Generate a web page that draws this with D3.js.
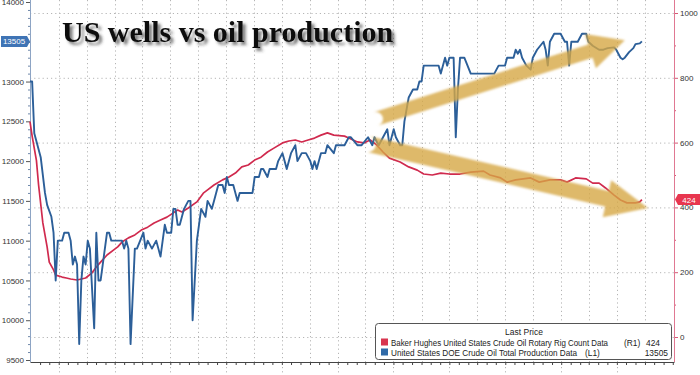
<!DOCTYPE html>
<html>
<head>
<meta charset="utf-8">
<script src="https://cdn.jsdelivr.net/npm/d3@7"></script>
<style>
  body { margin: 0; background: #fff; }
  svg { display: block; font-family: "Liberation Sans", Arial, sans-serif; }
</style>
</head>
<body>
<div id="chart"></div>
<script>
// weekly data, week 0 = 2020-03-13
const startDate = new Date(2020, 2, 13);
const totalWeeks = 301;

// [week, thousand barrels/day]
const production = [[0,13000],[1,13000],[2,12350],[5,12050],[7,11600],[8,11450],[10,11300],[11,11100],[12,10500],[13,11000],[15,11000],[16,11100],[18,11100],[19,11000],[20,10700],[21,10800],[22,10700],[23,9700],[24,10500],[25,10800],[26,10700],[27,11000],[28,10900],[30,9900],[31,11100],[32,10500],[33,10500],[34,10700],[36,11100],[37,11100],[38,11000],[43,11000],[44,10900],[45,11000],[46,10900],[47,9700],[49,10900],[50,10900],[53,11100],[54,10900],[55,11000],[57,10900],[59,11000],[60,10900],[61,10800],[63,11200],[64,11100],[66,11100],[67,11400],[68,11400],[69,11200],[70,11200],[72,11400],[74,11500],[75,11500],[76,10000],[78,11000],[80,11400],[82,11300],[83,11500],[85,11400],[86,11500],[88,11700],[90,11700],[91,11600],[92,11800],[93,11700],[95,11700],[97,11500],[98,11600],[104,11600],[105,11800],[107,11800],[108,11900],[109,11900],[111,11800],[112,11900],[115,11900],[116,12000],[118,12100],[119,12000],[120,11900],[122,12100],[124,12200],[125,12000],[127,12100],[129,12100],[131,12000],[132,11900],[133,12000],[134,11900],[136,12100],[138,12100],[139,12200],[142,12100],[143,12200],[147,12200],[149,12300],[150,12300],[153,12200],[155,12200],[158,12300],[160,12200],[161,12300],[163,12200],[165,12300],[167,12400],[168,12200],[170,12400],[171,12300],[173,12200],[174,12200],[175,12500],[177,12800],[179,12900],[181,12900],[182,13000],[183,13000],[184,13200],[191,13200],[192,13100],[194,13300],[195,13200],[196,13300],[198,13300],[199,12300],[200,12900],[201,13300],[203,13300],[206,13100],[217,13100],[219,13200],[222,13200],[223,13300],[226,13300],[227,13400],[228,13350],[229,13400],[230,13300],[232,13200],[234,13150],[235,13300],[237,13400],[240,13500],[241,13400],[242,13200],[243,13500],[245,13600],[246,13600],[248,13600],[250,13500],[251,13500],[252,13200],[253,13500],[256,13500],[258,13600],[260,13600],[261,13500],[263,13450],[266,13400],[268,13400],[270,13420],[273,13430],[274,13400],[276,13300],[277,13280],[278,13300],[280,13370],[282,13420],[283,13470],[285,13480],[286,13505]];

// [week, oil rigs]
const rigs = [[0,665],[1,620],[3,545],[4,470],[6,352],[8,278],[9,231],[11,207],[12,191],[15,185],[17,182],[19,179],[22,176],[24,179],[26,182],[29,198],[31,216],[33,231],[36,253],[39,268],[41,278],[43,293],[46,306],[49,315],[52,330],[55,339],[58,352],[61,361],[64,370],[67,383],[69,392],[71,386],[74,398],[78,417],[81,444],[83,454],[86,469],[90,485],[93,494],[96,506],[99,525],[102,531],[105,546],[108,555],[111,571],[114,583],[118,599],[121,605],[124,608],[127,602],[130,608],[133,614],[136,623],[139,630],[142,623],[147,620],[149,614],[151,608],[153,602],[156,599],[159,608],[162,593],[165,571],[168,552],[173,540],[177,525],[181,515],[184,503],[188,500],[192,506],[196,503],[201,503],[206,509],[212,512],[215,500],[220,491],[223,478],[227,485],[234,491],[238,478],[243,485],[248,485],[251,478],[255,491],[260,488],[263,475],[266,475],[269,460],[273,438],[276,423],[279,414],[283,414],[285,417],[286,424]];

const leftTicks = [9500, 10000, 10500, 11000, 11500, 12000, 12500, 13000, 13500, 14000];
const rightTicks = [0, 200, 400, 600, 800, 1000];
const lastProduction = 13505;
const lastRigs = 424;

// annotation arrows: [week, production-scale value] for tail and tip
const arrowUp = [[161.7, 12530], [278, 13520]];
const arrowDown = [[158, 12215], [288.8, 11410]];

const W = 700, H = 375;
const plot = { left: 30, right: 674, top: 0, bottom: 362 };

const toDate = w => new Date(startDate.getTime() + w * 7 * 864e5);

const x = d3.scaleTime()
  .domain([startDate, toDate(totalWeeks)])
  .range([plot.left, plot.right]);
const yL = d3.scaleLinear().domain([9500, 14000]).range([360, 2]);
const yR = d3.scaleLinear().domain([0, 1000]).range([337, 13]);

const gridDates = d3.range(22).map(i => d3.timeMonth.offset(new Date(2020, 5, 15), 3 * i));
const monthDates = d3.range(-2, 68).map(i => d3.timeMonth.offset(new Date(2020, 5, 15), i))
  .filter(d => x(d) >= plot.left && x(d) <= plot.right);

const svg = d3.select("#chart").append("svg")
  .attr("width", W).attr("height", H);

const defs = svg.append("defs");
const shadow = defs.append("filter").attr("id", "tshadow")
  .attr("x", "-10%").attr("y", "-30%").attr("width", "130%").attr("height", "180%");
shadow.append("feDropShadow").attr("dx", 3).attr("dy", 3)
  .attr("stdDeviation", 1.6).attr("flood-color", "#333").attr("flood-opacity", 0.65);

const glow = defs.append("filter").attr("id", "aglow")
  .attr("x", "-20%").attr("y", "-50%").attr("width", "140%").attr("height", "200%");
glow.append("feGaussianBlur").attr("in", "SourceGraphic").attr("stdDeviation", 1.2);

// grid
const grid = svg.append("g").attr("stroke", "#b5b5b5").attr("stroke-dasharray", "1.2,3").attr("stroke-width", 1);
grid.selectAll(".hg").data(rightTicks).enter().append("line")
  .attr("x1", plot.left).attr("x2", plot.right)
  .attr("y1", d => yR(d) + 0.5).attr("y2", d => yR(d) + 0.5);
grid.selectAll(".vg").data(gridDates).enter().append("line")
  .attr("x1", d => Math.round(x(d)) + 0.5).attr("x2", d => Math.round(x(d)) + 0.5)
  .attr("y1", plot.top).attr("y2", plot.bottom);
grid.selectAll(".vb").data(gridDates.filter((d, i) => i % 2 === 0)).enter().append("line")
  .attr("x1", d => Math.round(x(d)) + 0.5).attr("x2", d => Math.round(x(d)) + 0.5)
  .attr("y1", 367).attr("y2", H);

// axes
const xAxis = svg.append("g")
  .attr("transform", `translate(0,${plot.bottom})`)
  .call(d3.axisBottom(x).tickValues(monthDates).tickFormat("").tickSizeInner(3).tickSizeOuter(0));
xAxis.select(".domain").attr("stroke", "#444");
xAxis.selectAll(".tick line").attr("stroke", "#444");

const minorLeft = d3.range(9600, 14000, 100).filter(v => v % 500 !== 0);
svg.append("g").attr("transform", `translate(${plot.left},0)`)
  .call(d3.axisLeft(yL).tickValues(minorLeft).tickFormat("").tickSize(2))
  .call(g => g.select(".domain").remove())
  .selectAll("line").attr("stroke", "#6f88aa");

const leftAxis = svg.append("g").attr("transform", `translate(${plot.left},0)`)
  .call(d3.axisLeft(yL).tickValues(leftTicks).tickFormat(d3.format("d")).tickSize(4).tickPadding(2));
leftAxis.select(".domain").remove();
leftAxis.selectAll(".tick line").attr("stroke", "#555");
leftAxis.selectAll("text").attr("font-size", 8).attr("fill", "#333")
  .attr("font-family", "Liberation Sans, Arial, sans-serif");
svg.append("line").attr("x1", plot.left + 0.5).attr("x2", plot.left + 0.5)
  .attr("y1", 0).attr("y2", plot.bottom).attr("stroke", "#8da4c4");

const minorRight = d3.range(100, 1000, 200);
svg.append("g").attr("transform", `translate(${plot.right},0)`)
  .call(d3.axisRight(yR).tickValues(minorRight).tickFormat("").tickSize(2))
  .call(g => g.select(".domain").remove())
  .selectAll("line").attr("stroke", "#d65a78");

const rightAxis = svg.append("g").attr("transform", `translate(${plot.right},0)`)
  .call(d3.axisRight(yR).tickValues(rightTicks).tickFormat(d3.format("d")).tickSize(4).tickPadding(2));
rightAxis.select(".domain").remove();
rightAxis.selectAll(".tick line").attr("stroke", "#d65a78");
rightAxis.selectAll("text").attr("font-size", 8).attr("fill", "#333")
  .attr("font-family", "Liberation Sans, Arial, sans-serif");
svg.append("line").attr("x1", plot.right + 0.5).attr("x2", plot.right + 0.5)
  .attr("y1", 0).attr("y2", plot.bottom).attr("stroke", "#e07892");

// series
const lineR = d3.line().x(d => x(toDate(d[0]))).y(d => yR(d[1]));
const lineL = d3.line().x(d => x(toDate(d[0]))).y(d => yL(d[1]));

svg.append("path").datum(rigs)
  .attr("d", lineR).attr("fill", "none")
  .attr("stroke", "#d02a4e").attr("stroke-width", 1.7).attr("stroke-linejoin", "round");
svg.append("path").datum(production)
  .attr("d", lineL).attr("fill", "none")
  .attr("stroke", "#2c5f99").attr("stroke-width", 1.9).attr("stroke-linejoin", "round");

// arrows
function arrowPath(a, halfShaft, headLen, halfHead) {
  const x0 = x(toDate(a[0][0])), y0 = yL(a[0][1]);
  const x1 = x(toDate(a[1][0])), y1 = yL(a[1][1]);
  const dx = x1 - x0, dy = y1 - y0, len = Math.hypot(dx, dy);
  const ux = dx / len, uy = dy / len, px = -uy, py = ux;
  const bx = x1 - ux * headLen, by = y1 - uy * headLen;
  const p = d3.path();
  p.moveTo(x0 + px * halfShaft, y0 + py * halfShaft);
  p.lineTo(bx + px * halfShaft, by + py * halfShaft);
  p.lineTo(bx + px * halfHead, by + py * halfHead);
  p.lineTo(x1, y1);
  p.lineTo(bx - px * halfHead, by - py * halfHead);
  p.lineTo(bx - px * halfShaft, by - py * halfShaft);
  p.lineTo(x0 - px * halfShaft, y0 - py * halfShaft);
  p.arc(x0, y0, halfShaft, Math.atan2(-py, -px), Math.atan2(py, px), false);
  p.closePath();
  return p.toString();
}
const arrows = svg.append("g").attr("filter", "url(#aglow)");
arrows.append("path").attr("d", arrowPath(arrowUp, 7, 36, 18))
  .attr("fill", "#d6a744").attr("opacity", 0.8);
arrows.append("path").attr("d", arrowPath(arrowDown, 8, 42, 19))
  .attr("fill", "#d6a744").attr("opacity", 0.8);

// last value tags
function tag(xPos, yPos, txt, fill, side) {
  const g = svg.append("g");
  const w = side === "left" ? 27 : 23, h = 11;
  const p = d3.path();
  if (side === "left") {
    p.moveTo(1, yPos - h / 2); p.lineTo(w, yPos - h / 2); p.lineTo(w + 3, yPos);
    p.lineTo(w, yPos + h / 2); p.lineTo(1, yPos + h / 2); p.closePath();
  } else {
    p.moveTo(xPos, yPos); p.lineTo(xPos + 3, yPos - h / 2); p.lineTo(W, yPos - h / 2);
    p.lineTo(W, yPos + h / 2); p.lineTo(xPos + 3, yPos + h / 2); p.closePath();
  }
  g.append("path").attr("d", p.toString()).attr("fill", fill);
  g.append("text").attr("x", side === "left" ? 14 : xPos + 14).attr("y", yPos + 3)
    .attr("text-anchor", "middle").attr("font-size", 8).attr("fill", "#fff").text(txt);
}
tag(0, yL(lastProduction), lastProduction, "#3f74b5", "left");
tag(plot.right + 1, yR(lastRigs), lastRigs, "#e8364f", "right");

// title
svg.append("text").attr("x", 62).attr("y", 42)
  .attr("font-family", "Liberation Serif, 'DejaVu Serif', serif")
  .attr("font-weight", "bold").attr("font-size", 30).attr("fill", "#111")
  .attr("filter", "url(#tshadow)")
  .text("US wells vs oil production");

// legend
const lg = svg.append("g");
lg.append("rect").attr("x", 375.5).attr("y", 323.5).attr("width", 296).attr("height", 36)
  .attr("rx", 3).attr("fill", "#fff").attr("stroke", "#555");
lg.append("text").attr("x", 524).attr("y", 335).attr("text-anchor", "middle")
  .attr("font-size", 8.5).attr("fill", "#222").text("Last Price");
const legendRows = [
  { color: "#d8354f", name: "Baker Hughes United States Crude Oil Rotary Rig Count Data", nw: 217, axis: "(R1)", ax: 624, val: lastRigs, vx: 646, anchor: "start" },
  { color: "#2f6aa8", name: "United States DOE Crude Oil Total Production Data", nw: 186, axis: "(L1)", ax: 585, val: lastProduction, vx: 668, anchor: "end" }
];
legendRows.forEach((r, i) => {
  const yb = 345.5 + i * 10;
  lg.append("rect").attr("x", 381).attr("y", yb - 7).attr("width", 7).attr("height", 7).attr("fill", r.color);
  lg.append("text").attr("x", 391).attr("y", yb).attr("font-size", 8.4).attr("fill", "#222")
    .attr("textLength", r.nw).attr("lengthAdjust", "spacingAndGlyphs").text(r.name);
  lg.append("text").attr("x", r.ax).attr("y", yb).attr("font-size", 8.4).attr("fill", "#222").text(r.axis);
  lg.append("text").attr("x", r.vx).attr("y", yb).attr("text-anchor", r.anchor)
    .attr("font-size", 8.4).attr("fill", "#222").text(r.val);
});
</script>
</body>
</html>
